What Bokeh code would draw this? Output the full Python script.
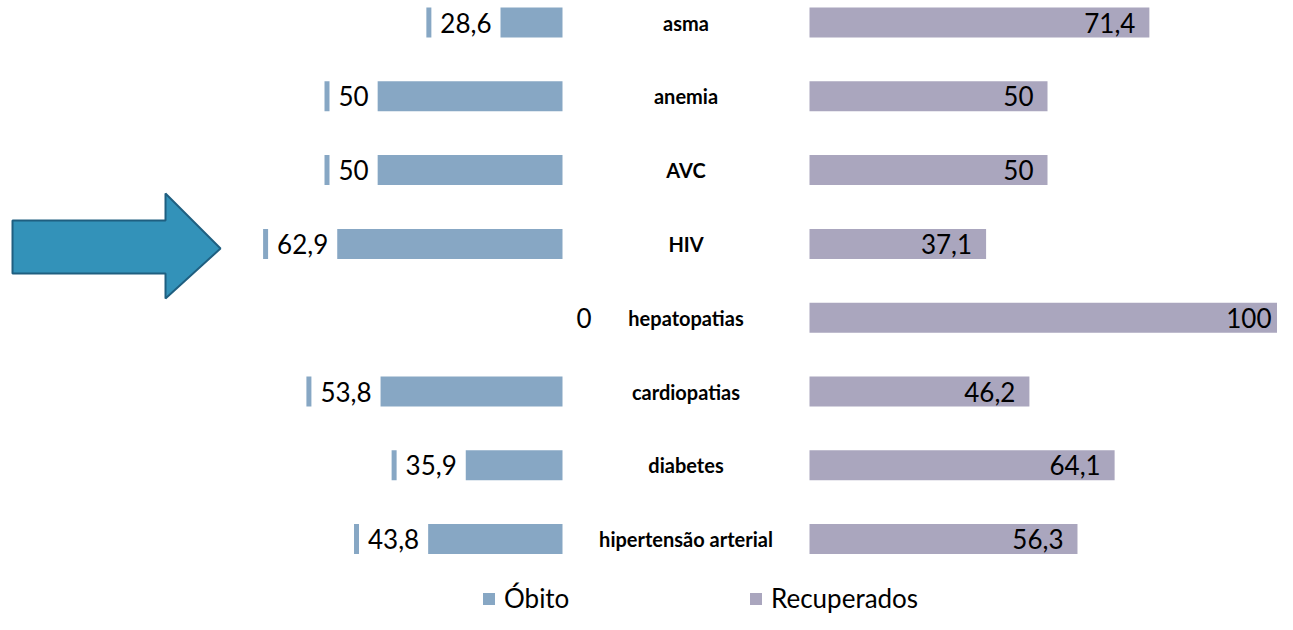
from bokeh.plotting import figure
from bokeh.models import Range1d, ColumnDataSource, Legend, LegendItem
from bokeh.core.properties import value
from bokeh.embed import file_html
from bokeh.resources import INLINE

# ---- data ----
categories = ["asma", "anemia", "AVC", "HIV", "hepatopatias", "cardiopatias",
              "diabetes", "hipertensão arterial"]
obito = [28.6, 50, 50, 62.9, 0, 53.8, 35.9, 43.8]
recuperados = [71.4, 50, 50, 37.1, 100, 46.2, 64.1, 56.3]
obito_labels = ["28,6", "50", "50", "62,9", "0", "53,8", "35,9", "43,8"]
recup_labels = ["71,4", "50", "50", "37,1", "100", "46,2", "64,1", "56,3"]

# ---- layout ----
W, H = 1277, 614
LEFT0_PX = 562      # px where Óbito bars start
RIGHT0_PX = 809     # px where Recuperados bars start
K = 4.76            # px per percentage unit
ROW = 73.8          # px per row
ROW0_PX = 22        # px (from top) of first row centre
GAP = (RIGHT0_PX - LEFT0_PX) / K

x0 = -LEFT0_PX / K
x1 = (W - LEFT0_PX) / K
y_top = -ROW0_PX / ROW
y_bot = (H - ROW0_PX) / ROW

p = figure(width=W, height=H, output_backend="svg", toolbar_location=None,
           x_range=Range1d(x0, x1), y_range=Range1d(y_bot, y_top),
           x_axis_type=None, y_axis_type=None, min_border=0,
           outline_line_color=None, background_fill_color="white")
p.xgrid.visible = False
p.ygrid.visible = False

FONT = "Lato"
ys = list(range(len(categories)))
src = ColumnDataSource(dict(
    y=ys, cat=categories,
    ob_left=[-v for v in obito], ob_right=[0] * len(obito),
    re_left=[GAP] * len(recuperados), re_right=[GAP + v for v in recuperados],
    ob_lab=obito_labels, re_lab=recup_labels,
    cx=[GAP / 2] * len(categories),
))

BH = 30 / ROW
r_ob = p.hbar(y="y", left="ob_left", right="ob_right", height=BH, source=src,
              fill_color="#87A7C4", line_color=None)
r_re = p.hbar(y="y", left="re_left", right="re_right", height=BH, source=src,
              fill_color="#AAA6BE", line_color=None)

# Óbito labels with white box, at outer end of bar
p.text(x="ob_left", y="y", text="ob_lab", source=src, x_offset=5,
       text_align="left", text_baseline="middle", text_font=value(FONT),
       text_font_size="26px", text_color="#000000",
       background_fill_color="white", padding=9)
# Recuperados labels inside end
p.text(x="re_right", y="y", text="re_lab", source=src, x_offset=-14,
       text_align="right", text_baseline="middle", text_font=value(FONT),
       text_font_size="26px", text_color="#000000")
# category labels
p.text(x="cx", y="y", text="cat", source=src, text_align="center",
       text_baseline="middle", text_font=value(FONT), text_font_size="20px",
       text_font_style="bold", text_color="#000000")

# ---- arrow annotation (px -> data) ----
def dx(sx):
    return (sx - LEFT0_PX) / K

def dy(sy):
    return (sy - ROW0_PX) / ROW

arrow_px = [(12, 220), (165, 220), (165, 193), (220, 248), (165, 298),
            (165, 273), (12, 273)]
p.patch([dx(a) for a, b in arrow_px], [dy(b) for a, b in arrow_px],
        fill_color="#3392B9", line_color="#1F5F80", line_width=2)

# ---- legends ----
for r, name, xloc in [(r_ob, "Óbito", 481), (r_re, "Recuperados", 748)]:
    lg = Legend(items=[LegendItem(label=name, renderers=[r])],
                location=(xloc, 0), orientation="horizontal",
                padding=0, margin=0, border_line_color=None,
                background_fill_alpha=0, glyph_width=15, glyph_height=15,
                label_standoff=8, label_text_font=FONT,
                label_text_font_size="26px", label_text_color="#000000")
    p.add_layout(lg)

open("out.html", "w").write(file_html(p, INLINE))
